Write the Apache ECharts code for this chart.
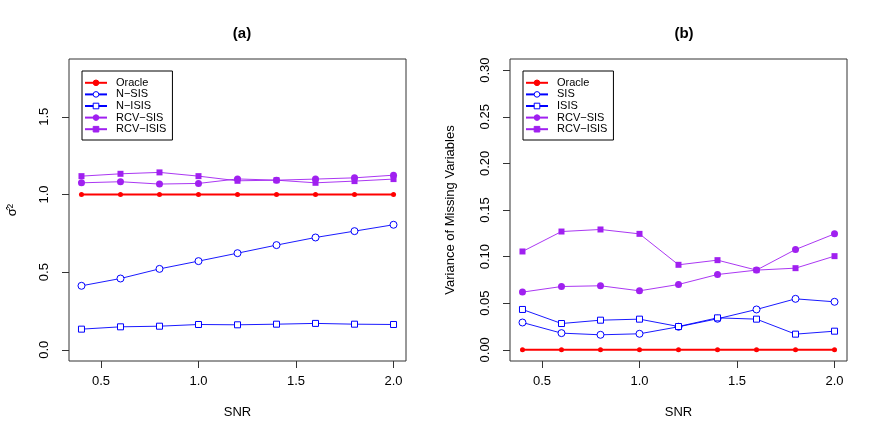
<!DOCTYPE html>
<html>
<head>
<meta charset="utf-8">
<script src="https://cdn.jsdelivr.net/npm/echarts@6/dist/echarts.min.js"></script>
<style>
  html, body { margin: 0; padding: 0; background: #fff; }
  #main { width: 883px; height: 436px; }
</style>
</head>
<body>
<div id="main"></div>
<script>
// SNR values (x)
var snr = [0.4, 0.6, 0.8, 1.0, 1.2, 1.4, 1.6, 1.8, 2.0];

// panel (a): sigma hat squared
var aOracle  = [1, 1, 1, 1, 1, 1, 1, 1, 1];
var aNSIS    = [0.412, 0.459, 0.521, 0.571, 0.622, 0.674, 0.723, 0.764, 0.805];
var aNISIS   = [0.133, 0.148, 0.152, 0.163, 0.161, 0.165, 0.170, 0.165, 0.163];
var aRcvSIS  = [1.075, 1.082, 1.067, 1.071, 1.100, 1.092, 1.099, 1.107, 1.124];
var aRcvISIS = [1.118, 1.133, 1.142, 1.118, 1.088, 1.092, 1.075, 1.086, 1.099];

// panel (b): variance of missing variables
var bOracle  = [0, 0, 0, 0, 0, 0, 0, 0, 0];
var bSIS     = [0.0293, 0.0179, 0.0161, 0.0172, 0.0247, 0.0333, 0.0433, 0.0547, 0.0515];
var bISIS    = [0.0433, 0.0282, 0.0318, 0.0329, 0.0250, 0.0343, 0.0329, 0.0168, 0.0200];
var bRcvSIS  = [0.0619, 0.0679, 0.0687, 0.0633, 0.0701, 0.0808, 0.0855, 0.1076, 0.1244];
var bRcvISIS = [0.1055, 0.1269, 0.1291, 0.1244, 0.0912, 0.0962, 0.0855, 0.0876, 0.1005];

var xTicks  = [0.5, 1.0, 1.5, 2.0];
var aYTicks = [0, 0.5, 1.0, 1.5];
var bYTicks = [0, 0.05, 0.10, 0.15, 0.20, 0.25, 0.30];

var RED = '#ff0000', BLUE = '#0000ff', PURPLE = '#a020f0';
var FONT = 'Liberation Sans, Arial, sans-serif';

function pairs(ys) {
  return snr.map(function (x, i) { return [x, ys[i]]; });
}

// open = hollow marker (white fill, thin coloured outline)
function mkSeries(name, ys, idx, color, symbol, size, width, open) {
  return {
    name: name, type: 'line', xAxisIndex: idx, yAxisIndex: idx,
    data: pairs(ys), symbol: symbol, symbolSize: size,
    itemStyle: { color: open ? '#fff' : color, borderColor: color, borderWidth: open ? 1 : 0 },
    lineStyle: { color: color, width: width },
    emphasis: { disabled: true }, z: 3
  };
}

function xAxisCfg(idx) {
  return {
    type: 'value', gridIndex: idx, min: 0.336, max: 2.064,
    name: 'SNR', nameLocation: 'middle', nameGap: 45,
    nameTextStyle: { color: '#000', fontSize: 13, fontFamily: FONT },
    axisLine: { show: false, onZero: false },
    splitLine: { show: false },
    axisTick: { show: true, inside: false, length: 7, lineStyle: { color: '#333' }, customValues: xTicks },
    axisLabel: { color: '#000', fontSize: 13, fontFamily: FONT, margin: 14,
      customValues: xTicks, formatter: function (v) { return v.toFixed(1); } }
  };
}

function yAxisCfg(idx, min, max, ticks, digits, name, gap) {
  return {
    type: 'value', gridIndex: idx, min: min, max: max,
    name: name, nameLocation: 'middle', nameGap: gap, nameRotate: 90,
    nameTextStyle: { color: '#000', fontSize: 13, fontFamily: FONT },
    axisLine: { show: false, onZero: false },
    splitLine: { show: false },
    axisTick: { show: true, inside: false, length: 7, lineStyle: { color: '#333' }, customValues: ticks },
    axisLabel: { color: '#000', fontSize: 13, fontFamily: FONT, margin: 18, rotate: 90,
      customValues: ticks, formatter: function (v) { return v.toFixed(digits); } }
  };
}

function legendCfg(left, names) {
  return {
    orient: 'vertical', left: left, top: 71,
    data: names, selectedMode: false,
    itemWidth: 22, itemHeight: 7, itemGap: 0,
    padding: [6, 6, 5, 2],
    borderColor: '#000', borderWidth: 1, borderRadius: 0,
    itemStyle: { borderWidth: 1 },
    textStyle: { color: '#000', fontSize: 11, fontFamily: FONT, lineHeight: 11.6, padding: [0, 0, 0, 4] }
  };
}

var chart = echarts.init(document.getElementById('main'));
chart.setOption({
  animation: false,
  backgroundColor: '#fff',
  title: [
    { text: '(a)', left: 237, top: 21, textAlign: 'center',
      textStyle: { fontSize: 15, fontWeight: 'bold', fontFamily: FONT, color: '#000' } },
    { text: '(b)', left: 679, top: 21, textAlign: 'center',
      textStyle: { fontSize: 15, fontWeight: 'bold', fontFamily: FONT, color: '#000' } }
  ],
  legend: [
    legendCfg(82, ['Oracle', 'N−SIS', 'N−ISIS', 'RCV−SIS', 'RCV−ISIS']),
    legendCfg(523, ['Oracle', 'SIS', 'ISIS', 'RCV−SIS', 'RCV−ISIS'])
  ],
  grid: [
    { left: 69, top: 59, width: 337, height: 302, show: true, borderColor: '#333', borderWidth: 1, backgroundColor: 'transparent' },
    { left: 510, top: 59, width: 337, height: 302, show: true, borderColor: '#333', borderWidth: 1, backgroundColor: 'transparent' }
  ],
  xAxis: [xAxisCfg(0), xAxisCfg(1)],
  yAxis: [
    yAxisCfg(0, -0.072, 1.872, aYTicks, 1, 'σ̂²', 50),
    yAxisCfg(1, -0.012, 0.312, bYTicks, 2, 'Variance of Missing Variables', 53)
  ],
  series: [
    mkSeries('Oracle',   aOracle,  0, RED,    'circle', 5, 2,   false),
    mkSeries('N−SIS',    aNSIS,    0, BLUE,   'circle', 7, 0.9, true),
    mkSeries('N−ISIS',   aNISIS,   0, BLUE,   'rect',   6, 0.9, true),
    mkSeries('RCV−SIS',  aRcvSIS,  0, PURPLE, 'circle', 7, 0.9, false),
    mkSeries('RCV−ISIS', aRcvISIS, 0, PURPLE, 'rect',   6, 0.9, false),
    mkSeries('Oracle',   bOracle,  1, RED,    'circle', 5, 2,   false),
    mkSeries('SIS',      bSIS,     1, BLUE,   'circle', 7, 0.9, true),
    mkSeries('ISIS',     bISIS,    1, BLUE,   'rect',   6, 0.9, true),
    mkSeries('RCV−SIS',  bRcvSIS,  1, PURPLE, 'circle', 7, 0.9, false),
    mkSeries('RCV−ISIS', bRcvISIS, 1, PURPLE, 'rect',   6, 0.9, false)
  ]
});
</script>
</body>
</html>
